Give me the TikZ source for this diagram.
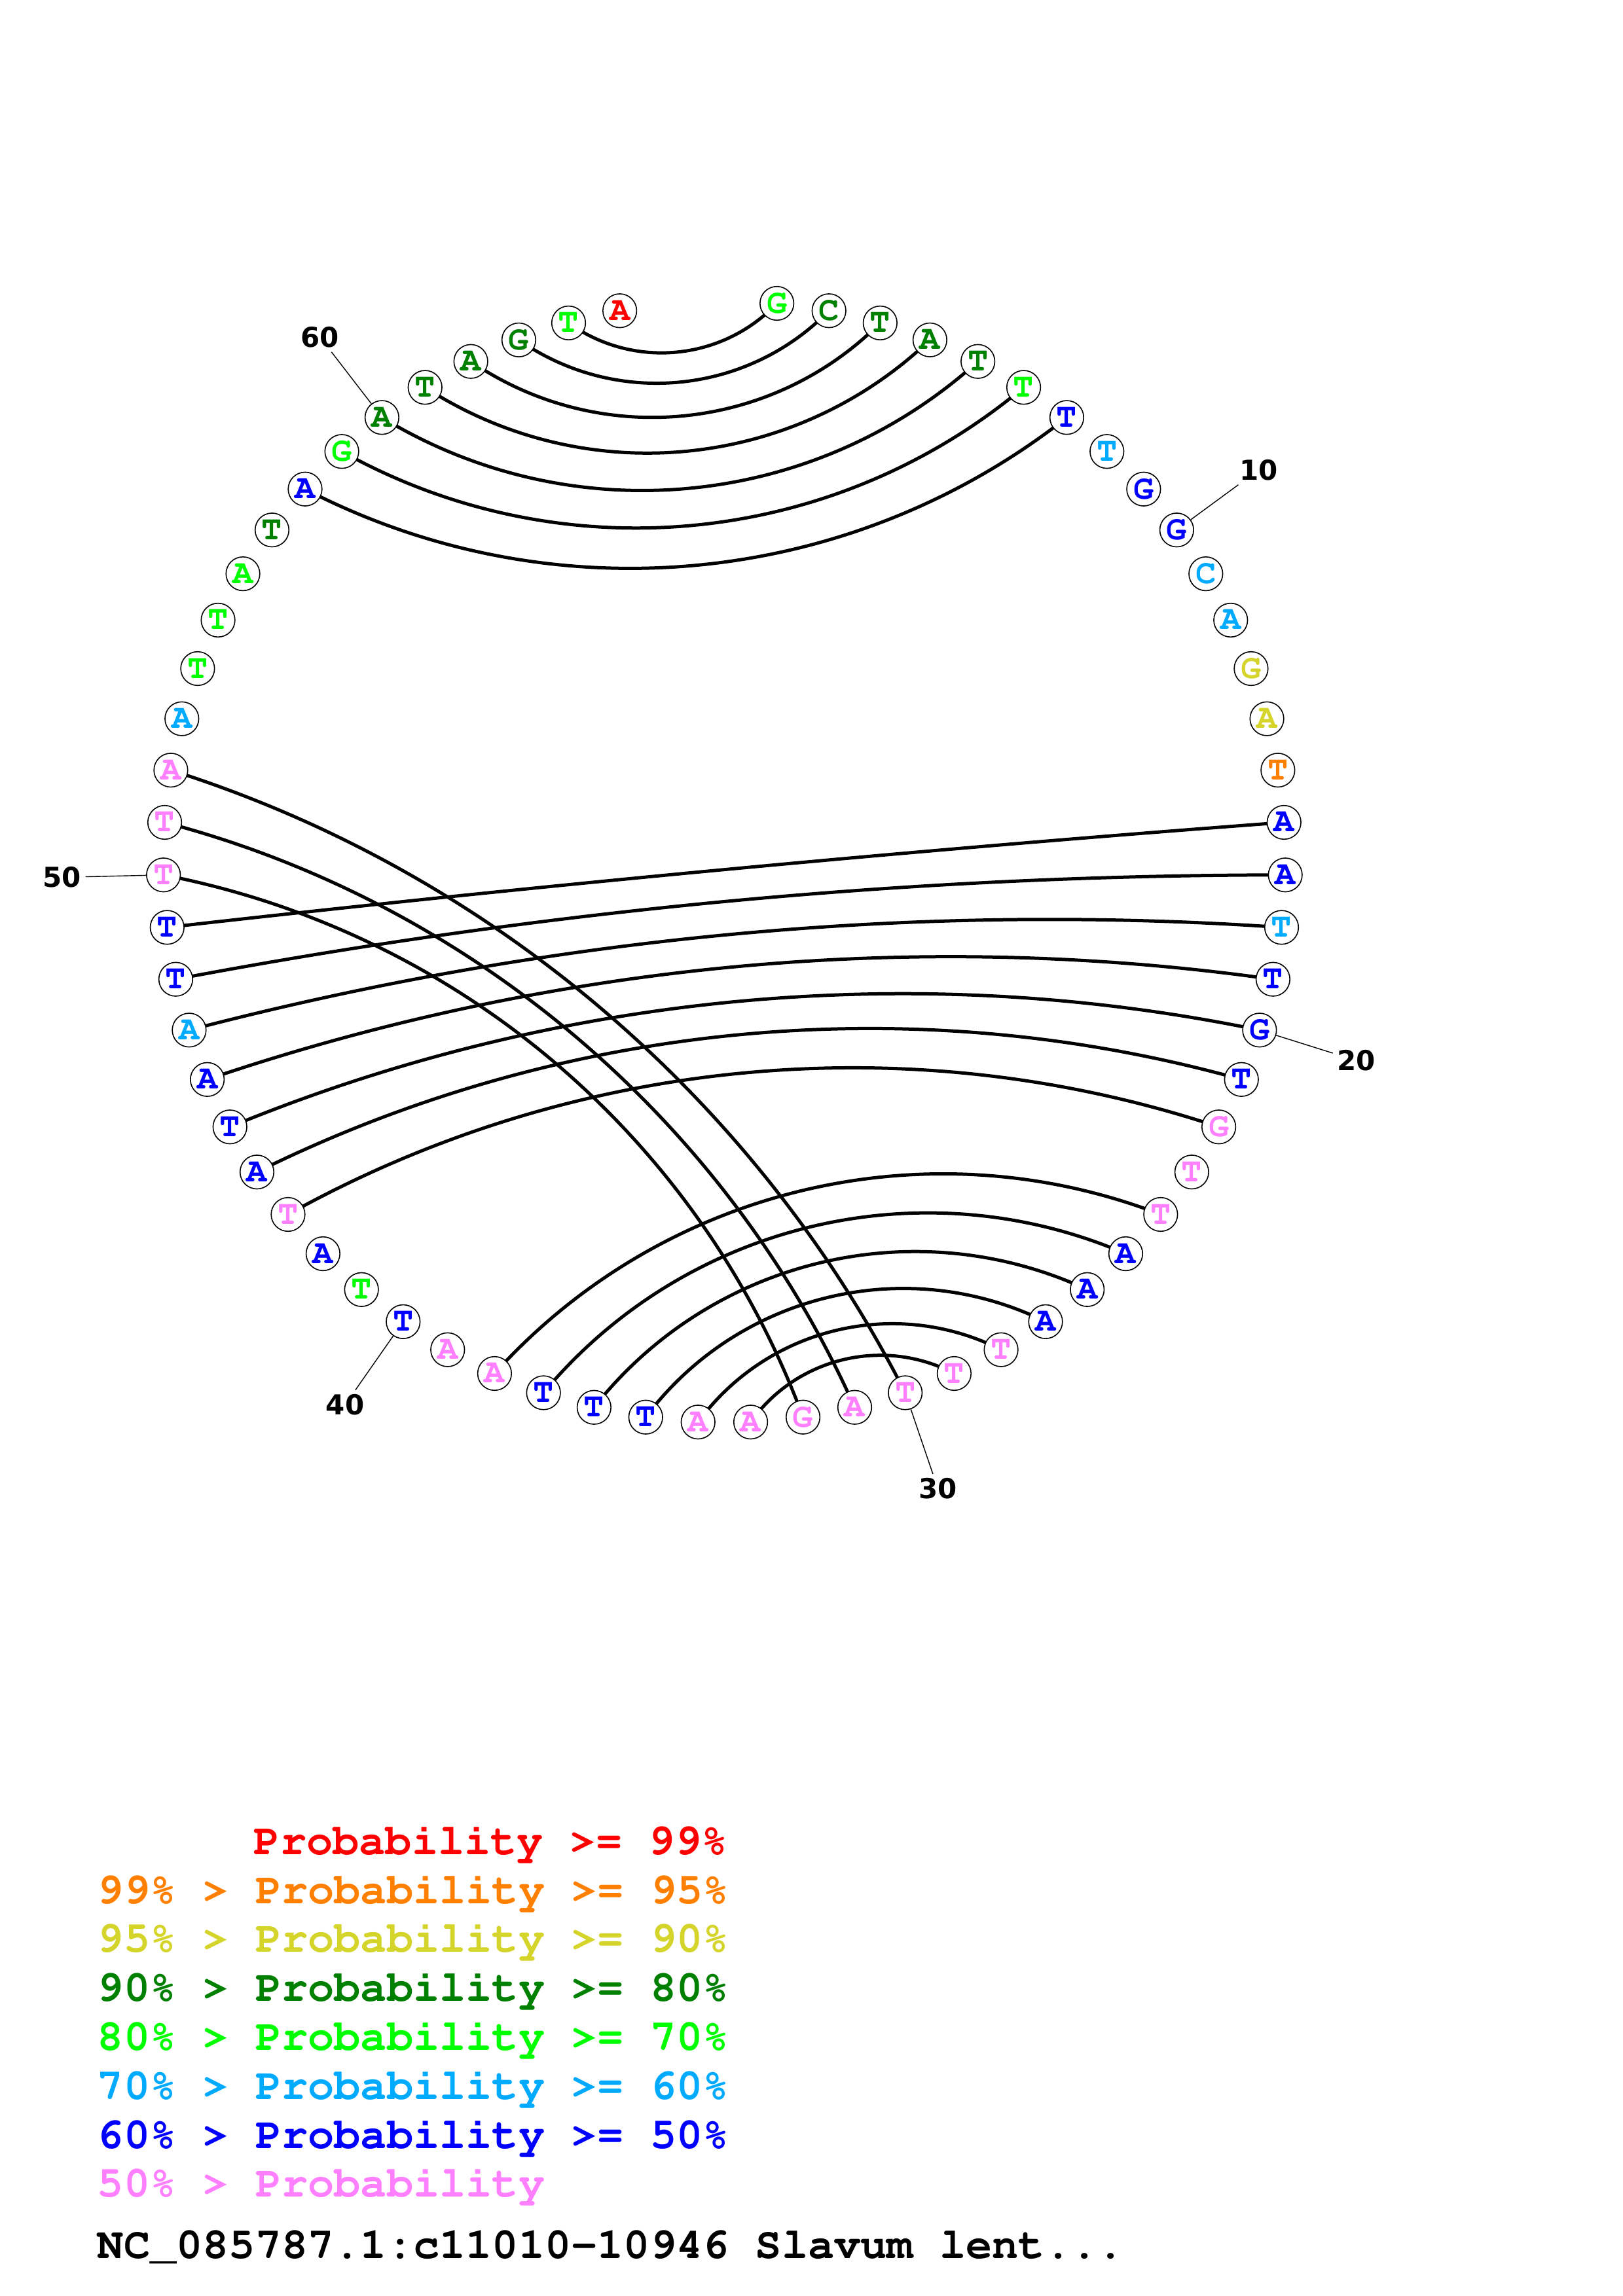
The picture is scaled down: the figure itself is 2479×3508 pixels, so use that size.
\documentclass[tikz,border=0pt]{standalone}
\usepackage[T1]{fontenc}
\usepackage{fontspec}
\newfontfamily\labfont{DejaVu Sans}
\pgfdeclarelayer{background}
\pgfsetlayers{background,main}
\definecolor{cred}{HTML}{FF0000}
\definecolor{corange}{HTML}{FF8000}
\definecolor{cyel}{HTML}{D4D42A}
\definecolor{cdg}{HTML}{008000}
\definecolor{cgr}{HTML}{00FF00}
\definecolor{ccy}{HTML}{00AAFF}
\definecolor{cbl}{HTML}{0000FF}
\definecolor{cpk}{HTML}{FF80FF}
\newcommand\cour{\fontencoding{T1}\fontfamily{pcr}\fontseries{b}\fontshape{n}\selectfont}
\begin{document}
\begin{tikzpicture}[x=0.25pt,y=0.25pt,
  base/.style={circle,draw=black,line width=0.4pt,fill=white,minimum size=12.9pt,inner sep=0pt,
    font=\cour\fontsize{13}{13}\selectfont},
  pairline/.style={line width=1.25pt},
  lab/.style={font=\labfont\bfseries\fontsize{10.5}{10.5}\selectfont,inner sep=1.5pt},
  labline/.style={line width=0.35pt},
  legend/.style={anchor=base west,inner sep=0pt,font=\cour\fontsize{16.75}{16.75}\selectfont}]
\useasboundingbox (0,-3508) rectangle (2479,0);
% nucleotides
\foreach \k/\b/\c in {1/G/cgr,2/C/cdg,3/T/cdg,4/A/cdg,5/T/cdg,6/T/cgr,7/T/cbl,8/T/ccy,9/G/cbl,10/G/cbl,
  11/C/ccy,12/A/ccy,13/G/cyel,14/A/cyel,15/T/corange,16/A/cbl,17/A/cbl,18/T/ccy,19/T/cbl,20/G/cbl,
  21/T/cbl,22/G/cpk,23/T/cpk,24/T/cpk,25/A/cbl,26/A/cbl,27/A/cbl,28/T/cpk,29/T/cpk,30/T/cpk,
  31/A/cpk,32/G/cpk,33/A/cpk,34/A/cpk,35/T/cbl,36/T/cbl,37/T/cbl,38/A/cpk,39/A/cpk,40/T/cbl,
  41/T/cgr,42/A/cbl,43/T/cpk,44/A/cbl,45/T/cbl,46/A/cbl,47/A/ccy,48/T/cbl,49/T/cbl,50/T/cpk,
  51/T/cpk,52/A/cpk,53/A/ccy,54/T/cgr,55/T/cgr,56/A/cgr,57/T/cdg,58/A/cbl,59/G/cgr,60/A/cdg,
  61/T/cdg,62/A/cdg,63/G/cdg,64/T/cgr,65/A/cred}
  \node[base,text=\c] (n\k) at ({1106.4+857*cos(90-\k*5.373134)},{-1316.7+857*sin(90-\k*5.373134)}) {\b};
% number labels
\foreach \k in {10,20,30,40,50,60} {
  \node[lab] (l\k) at ({1106.4+1012*cos(90-\k*5.373134)},{-1316.7+1012*sin(90-\k*5.373134)}) {\k};
  \draw[labline] (n\k) -- (l\k);
}
% base pairs
\begin{pgfonlayer}{background}
\fill[white] (0,-3508) rectangle (2479,0);
\foreach \a/\b/\o/\i/\l in {
  1/64/226.47/-35.73/0.971, 2/63/225.67/-34.93/0.966, 3/62/225.07/-34.33/0.962,
  4/61/223.72/-32.98/0.954, 5/60/222.12/-31.38/0.945, 6/59/219.92/-29.18/0.934,
  7/58/218.17/-27.43/0.925,
  49/16/6.47/184.27/0.851, 48/17/10.72/180.02/0.853, 47/18/14.67/176.07/0.857,
  46/19/18.77/171.97/0.863, 45/20/22.42/168.32/0.870, 44/21/26.37/164.37/0.881,
  43/22/29.12/161.62/0.889,
  38/24/47.98/158.88/0.934, 37/25/50.18/156.68/0.945, 36/26/51.78/155.08/0.954,
  35/27/53.13/153.73/0.962, 34/28/53.73/153.13/0.966, 33/29/54.53/152.33/0.971,
  52/30/-17.55/116.95/0.886, 51/31/-14.70/114.10/0.895, 50/32/-10.95/110.35/0.910}
  \draw[pairline] (n\a.center) to[out=\o,in=\i,looseness=\l] (n\b.center);
\end{pgfonlayer}
% legend
\node[legend,text=cred] (g1) at (387,-2833.2) {Probability >= 99\%};
\node[legend,text=corange] (g2) at (148,-2908.0) {99\% > Probability >= 95\%};
\node[legend,text=cyel] (g3) at (148,-2982.8) {95\% > Probability >= 90\%};
\node[legend,text=cdg] (g4) at (148,-3057.6) {90\% > Probability >= 80\%};
\node[legend,text=cgr] (g5) at (148,-3132.4) {80\% > Probability >= 70\%};
\node[legend,text=ccy] (g6) at (148,-3207.2) {70\% > Probability >= 60\%};
\node[legend,text=cbl] (g7) at (148,-3282.0) {60\% > Probability >= 50\%};
\node[legend,text=cpk] (g8) at (148,-3356.8) {50\% > Probability};
\node[legend,text=black] (title) at (148,-3450.7) {NC\_085787.1:c11010-10946 Slavum lent...};
\end{tikzpicture}
\end{document}
